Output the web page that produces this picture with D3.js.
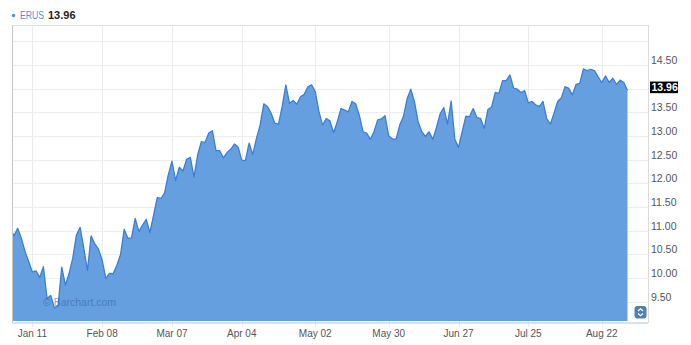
<!DOCTYPE html>
<html><head><meta charset="utf-8">
<script src="https://cdn.jsdelivr.net/npm/d3@7"></script>
<style>
html,body{margin:0;padding:0;background:#fff;}
svg{display:block;font-family:"Liberation Sans",Arial,sans-serif;}
</style></head>
<body><svg id="c" width="691" height="345"></svg>
<script>
// ---- data ----
const symbol = "ERUS";
const lastPrice = 13.96;
const firstDate = "2015-12-31";
const holidays = ["2016-01-01","2016-01-18","2016-02-15","2016-03-25","2016-05-30","2016-07-04"];
const closes = [
11.05,
10.89,11.05,10.84,10.56,10.35,10.13,10.15,10.01,10.24,9.57,
9.63,9.37,9.41,10.23,9.85,10.10,10.42,10.91,11.07,10.63,
10.16,10.89,10.72,10.61,10.38,9.99,10.10,10.09,10.27,10.49,
11.03,10.84,10.85,11.26,10.98,11.12,11.24,10.96,11.33,11.70,
11.68,11.80,12.18,12.47,12.06,12.34,12.26,12.51,12.55,12.13,
12.60,12.88,12.86,13.06,13.11,12.69,12.69,12.54,12.65,12.72,
12.83,12.77,12.49,12.48,12.85,12.61,12.95,13.23,13.68,13.62,
13.48,13.27,13.25,13.62,14.08,13.69,13.75,13.67,13.83,13.88,
14.04,14.08,13.94,13.52,13.23,13.37,13.32,13.07,13.30,13.58,
13.55,13.51,13.73,13.68,13.44,13.09,13.06,12.93,13.09,13.34,
13.36,13.43,13.00,12.94,12.93,13.23,13.41,13.78,13.99,13.73,
13.30,13.09,12.99,13.09,12.93,13.18,13.47,13.60,13.25,13.74,
12.93,12.76,13.09,13.42,13.41,13.58,13.39,13.37,13.16,13.56,
13.61,13.92,13.90,14.17,14.17,14.29,14.01,13.99,13.92,13.96,
13.70,13.73,13.66,13.62,13.73,13.37,13.25,13.48,13.73,13.81,
14.04,14.01,13.87,14.09,14.11,14.42,14.38,14.41,14.38,14.25,
14.13,14.27,14.13,14.22,14.09,14.18,14.13,13.96
];
const xTickDates = ["2016-01-11","2016-02-08","2016-03-07","2016-04-04","2016-05-02","2016-05-30","2016-06-27","2016-07-25","2016-08-22"];
const yTickValues = [9.5,10,10.5,11,11.5,12,12.5,13,13.5,14,14.5,15];
const yTickLabels = ["9.50","10.00","10.50","11.00","11.50","12.00","12.50","13.00","13.50","14.00","14.50",""];

// ---- trading calendar ----
const parse = d3.timeParse("%Y-%m-%d");
const fmtKey = d3.timeFormat("%Y-%m-%d");
const hol = new Set(holidays);
const dates = [];
let d = parse(firstDate);
while (dates.length < closes.length) {
  const wd = d.getDay();
  if (wd !== 0 && wd !== 6 && !hol.has(fmtKey(d))) dates.push(new Date(d));
  d = d3.timeDay.offset(d, 1);
}
const data = closes.map((v, i) => ({i, date: dates[i], v}));

// ---- layout ----
const L = 12.5, R = 648, T = 25, B = 323;
const svg = d3.select("#c");
const x = d3.scaleLinear().domain([0, closes.length - 1]).range([10.3, 627.5]);
const y = d3.scaleLinear().domain([9.071, 15.345]).range([322, T]);

// grid
const g = svg.append("g");
const tickIdx = xTickDates.map(s => d3.bisectLeft(dates, parse(s)));
g.selectAll("line.vg").data(tickIdx).join("line")
  .attr("x1", i => Math.round(x(i)) + 0.5).attr("x2", i => Math.round(x(i)) + 0.5)
  .attr("y1", T).attr("y2", B + 4)
  .attr("stroke", "#ebebeb").attr("stroke-width", 1);
g.selectAll("line.hg").data(yTickValues).join("line")
  .attr("x1", L).attr("x2", R)
  .attr("y1", v => Math.round(y(v)) + 0.5).attr("y2", v => Math.round(y(v)) + 0.5)
  .attr("stroke", "#ededed").attr("stroke-width", 1);

// area
svg.append("clipPath").attr("id", "clip").append("rect")
  .attr("x", L).attr("y", T).attr("width", R - L).attr("height", 321 - T);
const area = d3.area().x(p => x(p.i)).y0(321).y1(p => y(p.v));
const line = d3.line().x(p => x(p.i)).y(p => y(p.v));
const cg = svg.append("g").attr("clip-path", "url(#clip)");
cg.append("path").datum(data).attr("d", area).attr("fill", "#659fdf");
cg.append("path").datum(data).attr("d", line).attr("fill", "none")
  .attr("stroke", "#3b7fd4").attr("stroke-width", 1.3).attr("stroke-linejoin", "round");

// frame
svg.append("line").attr("x1", L).attr("x2", L).attr("y1", T).attr("y2", B).attr("stroke", "#c8c8c8");
svg.append("line").attr("x1", L).attr("x2", R).attr("y1", T + 0.5).attr("y2", T + 0.5).attr("stroke", "#e0e0e0");
svg.append("line").attr("x1", R + 0.5).attr("x2", R + 0.5).attr("y1", T).attr("y2", B).attr("stroke", "#dcdcdc");
svg.append("line").attr("x1", L).attr("x2", R).attr("y1", B).attr("y2", B).attr("stroke", "#cdd7e3").attr("stroke-width", 1.5);

// x axis labels
svg.selectAll("text.xl").data(tickIdx).join("text")
  .attr("x", i => x(i)).attr("y", 337)
  .attr("text-anchor", "middle").attr("font-size", "10px").attr("fill", "#555")
  .text((i, k) => d3.timeFormat("%b %d")(parse(xTickDates[k])));

// y labels (right)
const lastY = y(lastPrice);
svg.selectAll("text.yl").data(yTickValues.map((v, k) => ({v, t: yTickLabels[k]})).filter(o => o.t && Math.abs((y(o.v) - 5) - (lastY - 3)) > 9))
  .join("text")
  .attr("x", 651).attr("y", o => y(o.v) - 1)
  .attr("font-size", "10.5px").attr("fill", "#555")
  .text(o => o.t);

// last price box
svg.append("rect").attr("x", 650).attr("y", lastY - 9).attr("width", 28).attr("height", 11.6).attr("fill", "#000");
svg.append("text").attr("x", 651.5).attr("y", lastY + 0.6).attr("font-size", "10.5px")
  .attr("font-weight", "bold").attr("fill", "#fff").text(lastPrice.toFixed(2));

// legend
svg.append("circle").attr("cx", 13.5).attr("cy", 15.5).attr("r", 1.7).attr("fill", "#4a90d9");
svg.append("text").attr("x", 20).attr("y", 19).attr("font-size", "11px").attr("fill", "#4a90d9")
  .attr("textLength", 24).attr("lengthAdjust", "spacingAndGlyphs").text(symbol);
svg.append("text").attr("x", 48).attr("y", 19).attr("font-size", "11px").attr("font-weight", "bold").attr("fill", "#222").text(lastPrice.toFixed(2));

// watermark
svg.append("text").attr("x", 43).attr("y", 305.5).attr("font-size", "10.5px")
  .attr("fill", "#2f5d99").attr("fill-opacity", 0.55).text("\u00a9 Barchart.com");

// scroll button
const sb = svg.append("g").attr("transform", "translate(634.5,306)");
sb.append("rect").attr("width", 12).attr("height", 12.5).attr("rx", 3).attr("fill", "#4f7fb3");
sb.append("path").attr("d", "M3.5,5 L6,2.8 L8.5,5 M3.5,7.5 L6,9.7 L8.5,7.5")
  .attr("fill", "none").attr("stroke", "#fff").attr("stroke-width", 1.1);
</script></body></html>
